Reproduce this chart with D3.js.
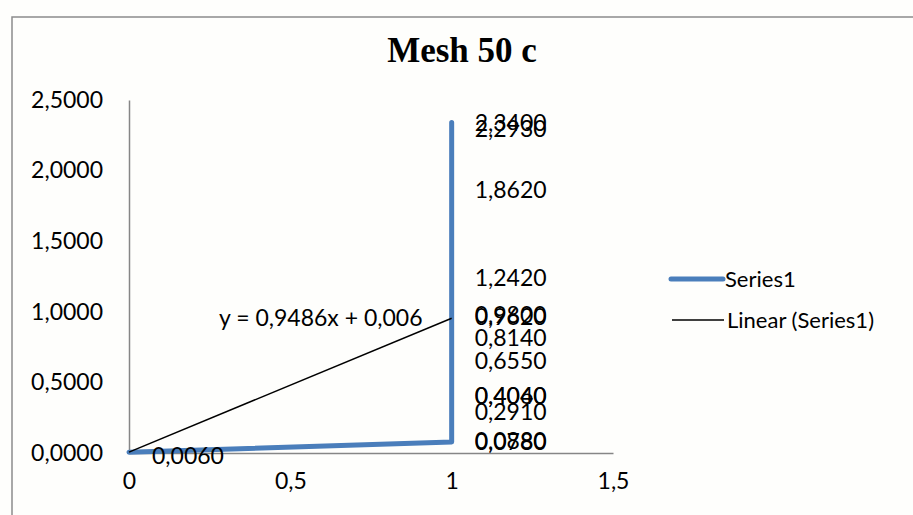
<!DOCTYPE html>
<html><head><meta charset="utf-8">
<script src="https://cdn.jsdelivr.net/npm/d3@7"></script>
<style>html,body{margin:0;padding:0;background:#fefefc;}svg{display:block;}</style>
</head><body>
<svg id="c" width="913" height="515"></svg>
<script>
const title = "Mesh 50 c";
const seriesX = [0, 1, 1, 1, 1, 1, 1, 1, 1, 1, 1, 1, 1, 1];
const seriesY = [0.006, 0.078, 0.088, 0.291, 0.404, 0.406, 0.655, 0.814, 0.962, 0.980, 1.242, 1.862, 2.293, 2.340];
const trendSlope = 0.9486;
const trendIntercept = 0.006;
const trendRange = [0, 1];
const trendLabel = "y = 0,9486x + 0,006";
const xTicks = [0, 0.5, 1, 1.5];
const yTicks = [0, 0.5, 1, 1.5, 2, 2.5];
const legendNames = ["Series1", "Linear (Series1)"];

const fmt4 = v => v.toFixed(4).replace(".", ",");
const fmtX = v => String(v).replace(".", ",");

const svg = d3.select("#c");
const W = 913, H = 515;
const font = "Lato, 'Open Sans', sans-serif";

// chart border
svg.append("rect").attr("x", 12).attr("y", 17).attr("width", W + 20).attr("height", H + 20)
  .attr("fill", "#fefefc").attr("stroke", "#8c8c8c").attr("stroke-width", 1.5);

const x = d3.scaleLinear().domain([0, 1.5]).range([129, 613]);
const y = d3.scaleLinear().domain([0, 2.5]).range([453, 100]);

// title
svg.append("text").attr("x", 462).attr("y", 62).attr("text-anchor", "middle")
  .attr("font-family", "'Liberation Serif', 'Times New Roman', serif").attr("font-weight", "bold")
  .attr("font-size", 35).attr("fill", "#000").text(title);

// axes
const yAxis = d3.axisLeft(y).tickValues(yTicks).tickSize(0).tickPadding(26).tickFormat(fmt4);
const gy = svg.append("g").attr("transform", `translate(${x(0)},0)`).call(yAxis);
gy.select(".domain").attr("stroke", "#868686").attr("stroke-width", 1.5);
gy.selectAll("text").attr("font-family", font).attr("font-size", 23).attr("fill", "#000");

const xAxis = d3.axisBottom(x).tickValues(xTicks).tickSize(0).tickPadding(20).tickFormat(fmtX);
const gx = svg.append("g").attr("transform", `translate(0,${y(0)})`).call(xAxis);
gx.select(".domain").attr("stroke", "#868686").attr("stroke-width", 1.5);
gx.selectAll("text").attr("font-family", font).attr("font-size", 23).attr("fill", "#000");

// series line
const pts = seriesX.map((v, i) => [v, seriesY[i]]);
const line = d3.line().x(d => x(d[0])).y(d => y(d[1]));
svg.append("path").datum(pts).attr("d", line).attr("fill", "none")
  .attr("stroke", "#4a7ebb").attr("stroke-width", 5).attr("stroke-linejoin", "round").attr("stroke-linecap", "round");

// trendline
const tpts = trendRange.map(v => [v, trendSlope * v + trendIntercept]);
svg.append("path").datum(tpts).attr("d", line).attr("fill", "none")
  .attr("stroke", "#000").attr("stroke-width", 1.5);

// trend label
svg.append("text").attr("x", 219).attr("y", y(1.0) + 6).attr("dy", "0.35em")
  .attr("font-family", font).attr("font-size", 23).attr("fill", "#000").text(trendLabel);

// data labels
svg.append("g").selectAll("text").data(pts).join("text")
  .attr("x", d => x(d[0]) + 23).attr("y", d => y(d[1]) + (d[0] === 0 ? 4 : 0)).attr("dy", "0.35em")
  .attr("font-family", font).attr("font-size", 23).attr("fill", "#000")
  .text(d => fmt4(d[1]));

// legend
const lg = svg.append("g");
lg.append("line").attr("x1", 671).attr("x2", 723).attr("y1", 279).attr("y2", 279)
  .attr("stroke", "#4a7ebb").attr("stroke-width", 5).attr("stroke-linecap", "round");
lg.append("text").attr("x", 725).attr("y", 279).attr("dy", "0.35em").attr("font-family", font)
  .attr("font-size", 22).attr("fill", "#000").text(legendNames[0]);
lg.append("line").attr("x1", 672).attr("x2", 724).attr("y1", 320).attr("y2", 320)
  .attr("stroke", "#000").attr("stroke-width", 1.5);
lg.append("text").attr("x", 727).attr("y", 320).attr("dy", "0.35em").attr("font-family", font)
  .attr("font-size", 22).attr("fill", "#000").text(legendNames[1]);
</script>
</body></html>
